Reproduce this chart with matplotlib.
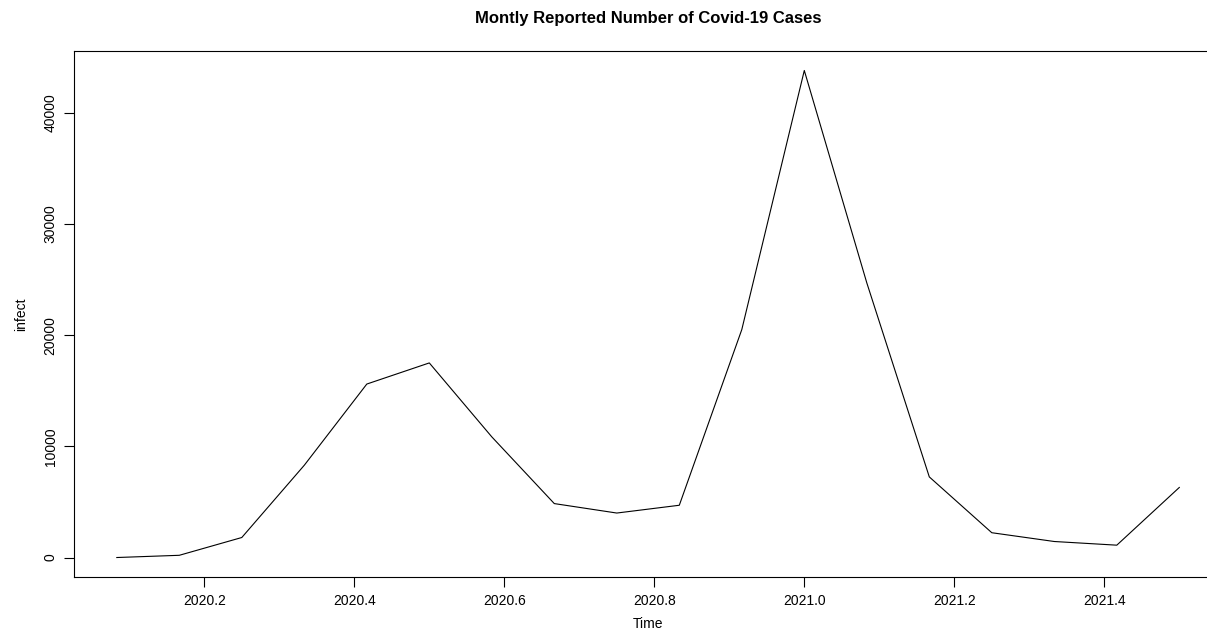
import numpy as np
import matplotlib.pyplot as plt

plt.rcParams['font.family'] = ['Liberation Sans', 'DejaVu Sans']

# monthly series starting Feb 2020 (R ts, frequency 12)
start = 2020 + 1 / 12
infect = [0, 200, 1800, 8300, 15600, 17500, 10850, 4850, 4000, 4700,
          20500, 43800, 24700, 7250, 2230, 1440, 1110, 6300]
time = start + np.arange(len(infect)) / 12

x_ticks = [2020.2, 2020.4, 2020.6, 2020.8, 2021.0, 2021.2, 2021.4]
y_ticks = [0, 10000, 20000, 30000, 40000]

fig = plt.figure(figsize=(12.07, 6.42), dpi=100)
# R-style plot region; right side runs past the image edge like the original
ax = fig.add_axes([74.3 / 1207, 1 - 577 / 642, 1147.5 / 1207, 526 / 642])

ax.plot(time, infect, color='black', lw=0.8)

# R pads axes by 4% of the data range
xr = time[-1] - time[0]
yr = max(infect) - min(infect)
ax.set_xlim(time[0] - 0.04 * xr, time[-1] + 0.04 * xr)
ax.set_ylim(min(infect) - 0.04 * yr, max(infect) + 0.04 * yr)

ax.set_xticks(x_ticks)
ax.set_xticklabels(['%.1f' % t for t in x_ticks])
ax.set_yticks(y_ticks)
ax.set_yticklabels([str(v) for v in y_ticks], rotation=90, va='center')
ax.tick_params(direction='out', length=7, width=0.8, labelsize=10, pad=5,
               colors='black')

for s in ax.spines.values():
    s.set_linewidth(0.8)
    s.set_color('black')

ax.set_xlabel('Time', fontsize=10, labelpad=7)
ax.set_ylabel('infect', fontsize=10, labelpad=11)
ax.set_title('Montly Reported Number of Covid-19 Cases', fontsize=12,
             fontweight='bold', pad=20)

fig.savefig('out.png', dpi=100)
